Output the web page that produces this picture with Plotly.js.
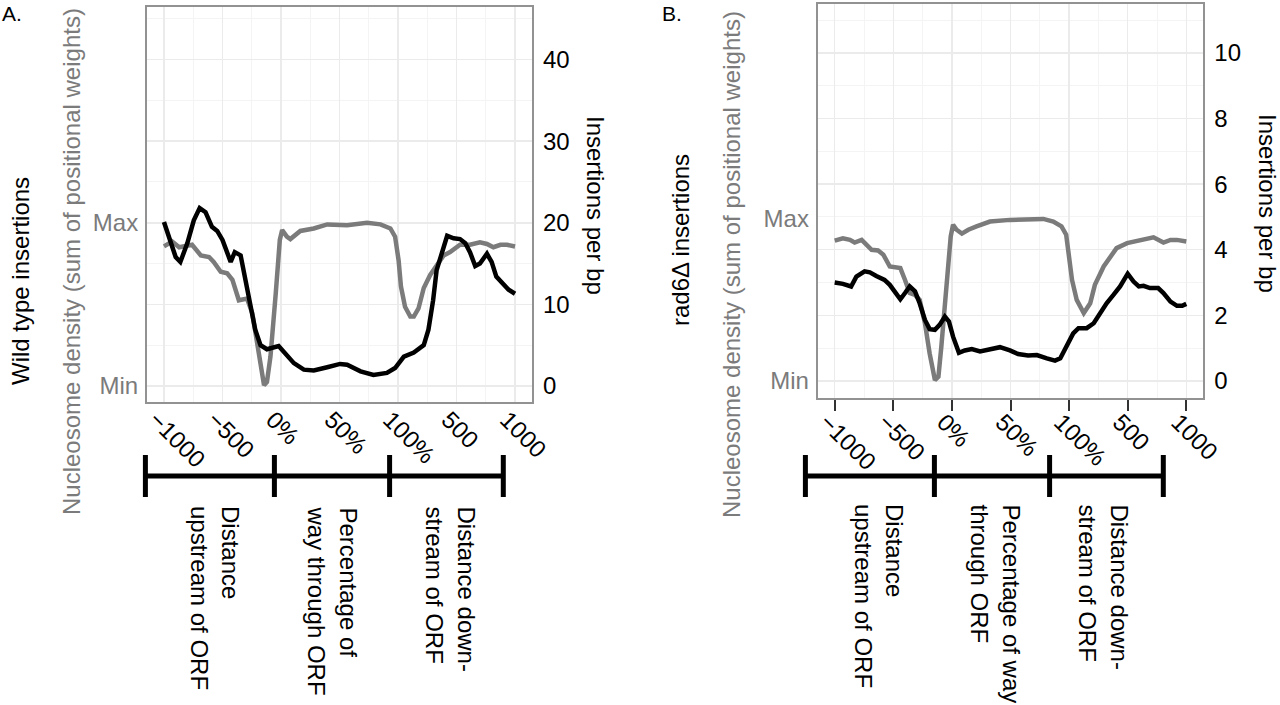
<!DOCTYPE html>
<html>
<head>
<meta charset="utf-8">
<script src="https://cdn.plot.ly/plotly-3.0.1.min.js"></script>
<style>
  html, body { margin: 0; padding: 0; background: #fff; }
  #chart { width: 1280px; height: 705px; }
</style>
</head>
<body>
<div id="chart"></div>
<script>
'use strict';

// x positions: 0..2 = -1000..0 bp upstream, 2..4 = 0..100% of ORF, 4..6 = 0..1000 bp downstream
const xTickVals = [0, 1, 2, 3, 4, 5, 6];
const xTickLabels = ['\u22121000', '\u2212500', '0%', '50%', '100%', '500', '1000'];

// Panel A: wild type insertions per bp
const wtInsPos = [0, 0.11, 0.2, 0.28, 0.4, 0.51, 0.61, 0.71, 0.82, 0.91, 1.0, 1.14, 1.21, 1.31, 1.39, 1.48, 1.56, 1.65, 1.76, 1.96, 2.05, 2.22, 2.39, 2.56, 2.79, 3.01, 3.13, 3.36, 3.58, 3.81, 3.95, 4.1, 4.27, 4.44, 4.52, 4.6, 4.66, 4.75, 4.84, 4.95, 5.06, 5.15, 5.23, 5.32, 5.4, 5.52, 5.6, 5.68, 5.8, 5.89, 6.0];
const wtIns = [20.1, 17.9, 15.8, 15.2, 17.5, 20.3, 21.8, 21.3, 19.5, 19.0, 17.9, 15.2, 16.4, 16.0, 13.0, 9.7, 6.9, 5.0, 4.5, 4.9, 4.2, 2.8, 2.0, 1.9, 2.3, 2.7, 2.6, 1.8, 1.35, 1.6, 2.2, 3.6, 4.1, 5.0, 6.9, 10.5, 14.2, 16.2, 18.4, 18.1, 18.0, 17.5, 16.4, 14.7, 15.0, 16.2, 15.2, 13.4, 12.4, 11.8, 11.3];

// Panel A: nucleosome density (drawn on the same scale, Min..Max)
const wtNucPos = [0, 0.14, 0.26, 0.37, 0.48, 0.63, 0.77, 0.85, 0.97, 1.08, 1.17, 1.28, 1.42, 1.51, 1.59, 1.65, 1.71, 1.76, 1.82, 1.91, 1.98, 2.02, 2.1, 2.16, 2.33, 2.56, 2.79, 3.13, 3.47, 3.7, 3.87, 3.95, 4.01, 4.05, 4.12, 4.21, 4.27, 4.35, 4.44, 4.55, 4.66, 4.78, 4.89, 5.06, 5.23, 5.4, 5.52, 5.63, 5.75, 5.86, 6.0];
const wtNuc = [17.1, 17.7, 17.0, 17.1, 17.3, 16.0, 15.8, 15.2, 14.0, 13.8, 13.0, 10.5, 10.7, 8.9, 5.6, 2.4, 0.1, 0.5, 3.6, 11.3, 17.9, 19.1, 18.3, 18.0, 19.0, 19.3, 19.8, 19.7, 20.0, 19.8, 19.3, 18.3, 15.4, 12.2, 9.7, 8.5, 8.5, 9.5, 12.0, 13.6, 14.8, 16.0, 16.4, 17.3, 17.3, 17.6, 17.4, 17.0, 17.3, 17.3, 17.1];

// Panel B: rad6 deletion insertions per bp
const radInsPos = [0, 0.14, 0.28, 0.37, 0.51, 0.6, 0.71, 0.85, 0.94, 1.03, 1.12, 1.2, 1.28, 1.37, 1.45, 1.54, 1.62, 1.71, 1.79, 1.88, 1.95, 2.02, 2.12, 2.22, 2.34, 2.48, 2.65, 2.82, 2.99, 3.13, 3.3, 3.45, 3.62, 3.76, 3.85, 3.96, 4.07, 4.16, 4.3, 4.42, 4.53, 4.64, 4.76, 4.87, 5.0, 5.1, 5.19, 5.27, 5.38, 5.52, 5.61, 5.73, 5.84, 5.93, 6.0];
const radIns = [3.0, 2.96, 2.88, 3.18, 3.34, 3.31, 3.2, 3.08, 2.93, 2.68, 2.49, 2.68, 2.88, 2.73, 2.37, 1.86, 1.58, 1.56, 1.71, 1.96, 1.81, 1.35, 0.86, 0.93, 0.97, 0.9, 0.97, 1.03, 0.93, 0.82, 0.78, 0.79, 0.69, 0.62, 0.69, 1.05, 1.45, 1.61, 1.61, 1.76, 2.07, 2.37, 2.63, 2.88, 3.27, 3.03, 2.88, 2.9, 2.83, 2.83, 2.68, 2.42, 2.29, 2.29, 2.35];

// Panel B: nucleosome density
const radNucPos = [0, 0.14, 0.26, 0.34, 0.46, 0.54, 0.63, 0.74, 0.83, 0.94, 1.04, 1.12, 1.2, 1.28, 1.37, 1.45, 1.54, 1.62, 1.71, 1.77, 1.82, 1.91, 1.98, 2.02, 2.08, 2.17, 2.28, 2.42, 2.65, 2.99, 3.33, 3.56, 3.73, 3.87, 3.95, 3.99, 4.05, 4.13, 4.25, 4.36, 4.44, 4.59, 4.7, 4.81, 4.99, 5.16, 5.27, 5.44, 5.61, 5.73, 5.84, 6.0];
const radNuc = [4.28, 4.35, 4.3, 4.22, 4.3, 4.15, 4.0, 3.98, 3.85, 3.49, 3.47, 3.44, 3.08, 2.68, 2.62, 2.47, 1.76, 0.84, 0.03, 0.13, 1.05, 2.88, 4.41, 4.76, 4.61, 4.49, 4.61, 4.71, 4.86, 4.91, 4.94, 4.94, 4.86, 4.71, 4.46, 3.9, 3.08, 2.47, 2.07, 2.37, 2.93, 3.49, 3.8, 4.05, 4.2, 4.28, 4.3, 4.38, 4.22, 4.3, 4.3, 4.25];

const minMaxLabels = ['Min', 'Max'];
const wtMinMax = [0, 20];
const radMinMax = [0, 4.94];
const wtRightTicks = [0, 10, 20, 30, 40];
const radRightTicks = [0, 2, 4, 6, 8, 10];

const W = 1280, H = 705;
const px = v => v / W;
const py = v => 1 - v / H;

const FONT = 'Liberation Sans, Arial, Helvetica, sans-serif';
const GREY = '#7b7b7b';
const BORDER = '#929292';
const fs = 24;

function line(x, y, color, xa, ya) {
	return {
		x: x, y: y, xaxis: xa, yaxis: ya,
		type: 'scatter', mode: 'lines',
		line: { color: color, width: 4.5 },
		hoverinfo: 'skip', showlegend: false
	};
}

// insertions go on the right (numeric) axis, nucleosome density on the left (Min/Max) axis
const data = [
	line(wtInsPos, wtIns, '#000000', 'x', 'y2'),
	line(wtNucPos, wtNuc, GREY, 'x', 'y'),
	line(radInsPos, radIns, '#000000', 'x2', 'y4'),
	line(radNucPos, radNuc, GREY, 'x2', 'y3')
];

function xAxis(domain, anchor, ticks) {
	return {
		domain: domain, anchor: anchor,
		range: [-0.29, 6.29], fixedrange: true,
		tickmode: 'array', tickvals: xTickVals, ticktext: xTickLabels,
		tickangle: 45,
		tickfont: { family: FONT, size: fs, color: '#000' },
		ticks: ticks ? 'outside' : '', ticklen: 11, tickwidth: 2, tickcolor: '#333',
		ticklabelstandoff: ticks ? -12 : -8, ticklabelshift: -8,
		showgrid: true, gridcolor: '#ebebeb', gridwidth: 1.5,
		minor: { tickmode: 'array', tickvals: [0.5, 1.5, 2.5, 3.5, 4.5, 5.5], showgrid: true, gridcolor: '#f4f4f4', gridwidth: 1, ticks: '' },
		showline: true, linecolor: BORDER, linewidth: 2, mirror: true,
		zeroline: false
	};
}

function leftAxis(domain, anchor, range, vals) {
	return {
		domain: domain, anchor: anchor, range: range, fixedrange: true,
		tickmode: 'array', tickvals: vals, ticktext: minMaxLabels,
		tickfont: { family: FONT, size: fs, color: GREY },
		ticks: '', ticklabelstandoff: 2,
		showgrid: false, zeroline: false,
		showline: true, linecolor: BORDER, linewidth: 2, mirror: true
	};
}

function rightAxis(over, anchor, range, vals, minorStep) {
	return {
		overlaying: over, anchor: anchor, side: 'right', range: range, fixedrange: true,
		tickmode: 'array', tickvals: vals,
		tickfont: { family: FONT, size: fs, color: '#000' },
		ticks: '', ticklabelstandoff: 10,
		showgrid: true, gridcolor: '#ebebeb', gridwidth: 1.5,
		minor: { tickmode: 'linear', dtick: minorStep, tick0: minorStep, showgrid: true, gridcolor: '#f4f4f4', gridwidth: 1, ticks: '' },
		zeroline: false, showline: false
	};
}

const domAx = [px(147), px(532)];
const domAy = [py(402.3), py(7.3)];
const domBx = [px(817.7), px(1203.3)];
const domBy = [py(397.7), py(4)];
const rangeA = [-2.0, 46.4];
const rangeB = [-0.51, 11.49];

function txt(text, x, y, opts) {
	return Object.assign({
		text: text, xref: 'paper', yref: 'paper', x: px(x), y: py(y),
		showarrow: false, xanchor: 'center', yanchor: 'middle',
		font: { family: FONT, size: fs, color: '#000' }
	}, opts || {});
}

const annotations = [];
const shapes = [];

function panelDecor(dx, letter, leftTitle, nucCenterY, leftCenterY, rightX, rightY, bottomLabels, labelTop) {
	annotations.push(txt(letter, dx + 0, 0, { xanchor: 'left', yanchor: 'top', font: { family: FONT, size: 21, color: '#000' } }));
	annotations.push(txt(leftTitle, dx + 20, leftCenterY, { textangle: -90 }));
	annotations.push(txt('Nucleosome density (sum of positional weights)', dx + 71, nucCenterY, { textangle: -90, font: { family: FONT, size: fs, color: GREY } }));
	annotations.push(txt('Insertions per bp', rightX, rightY, { textangle: 90 }));

	// bracket under the axis
	const bx = [145.4, 274.4, 389.6, 503.3].map(v => v + dx);
	shapes.push({ type: 'line', xref: 'paper', yref: 'paper', x0: px(bx[0]), x1: px(bx[3]), y0: py(476), y1: py(476), line: { color: '#000', width: 5 } });
	bx.forEach(function(v) {
		shapes.push({ type: 'line', xref: 'paper', yref: 'paper', x0: px(v), x1: px(v), y0: py(455), y1: py(497), line: { color: '#000', width: 5 } });
	});

	bottomLabels.forEach(function(lab) {
		annotations.push(txt(lab.text, dx + lab.x, labelTop, { textangle: 90, align: 'left', yanchor: 'top' }));
	});
}

panelDecor(0, 'A.', 'Wild type insertions', 262, 281, 595, 205, [
	{ text: 'Distance<br>upstream of ORF', x: 215 },
	{ text: 'Percentage of<br>way through ORF', x: 333 },
	{ text: 'Distance down-<br>stream of ORF', x: 451 }
], 504);

panelDecor(660, 'B.', 'rad6\u0394 insertions', 265, 240, 1268, 203, [
	{ text: 'Distance<br>upstream of ORF', x: 219 },
	{ text: 'Percentage of way<br>through ORF', x: 336 },
	{ text: 'Distance down-<br>stream of ORF', x: 444 }
], 502);

const layout = {
	width: W, height: H,
	margin: { l: 0, r: 0, t: 0, b: 0 },
	paper_bgcolor: '#ffffff', plot_bgcolor: '#ffffff',
	showlegend: false,
	xaxis: xAxis(domAx, 'y', false),
	yaxis: leftAxis(domAy, 'x', rangeA, wtMinMax),
	yaxis2: rightAxis('y', 'x', rangeA, wtRightTicks, 5),
	xaxis2: xAxis(domBx, 'y3', true),
	yaxis3: leftAxis(domBy, 'x2', rangeB, radMinMax),
	yaxis4: rightAxis('y3', 'x2', rangeB, radRightTicks, 1),
	annotations: annotations,
	shapes: shapes
};

Plotly.newPlot('chart', data, layout, { staticPlot: true, displayModeBar: false });
</script>
</body>
</html>
